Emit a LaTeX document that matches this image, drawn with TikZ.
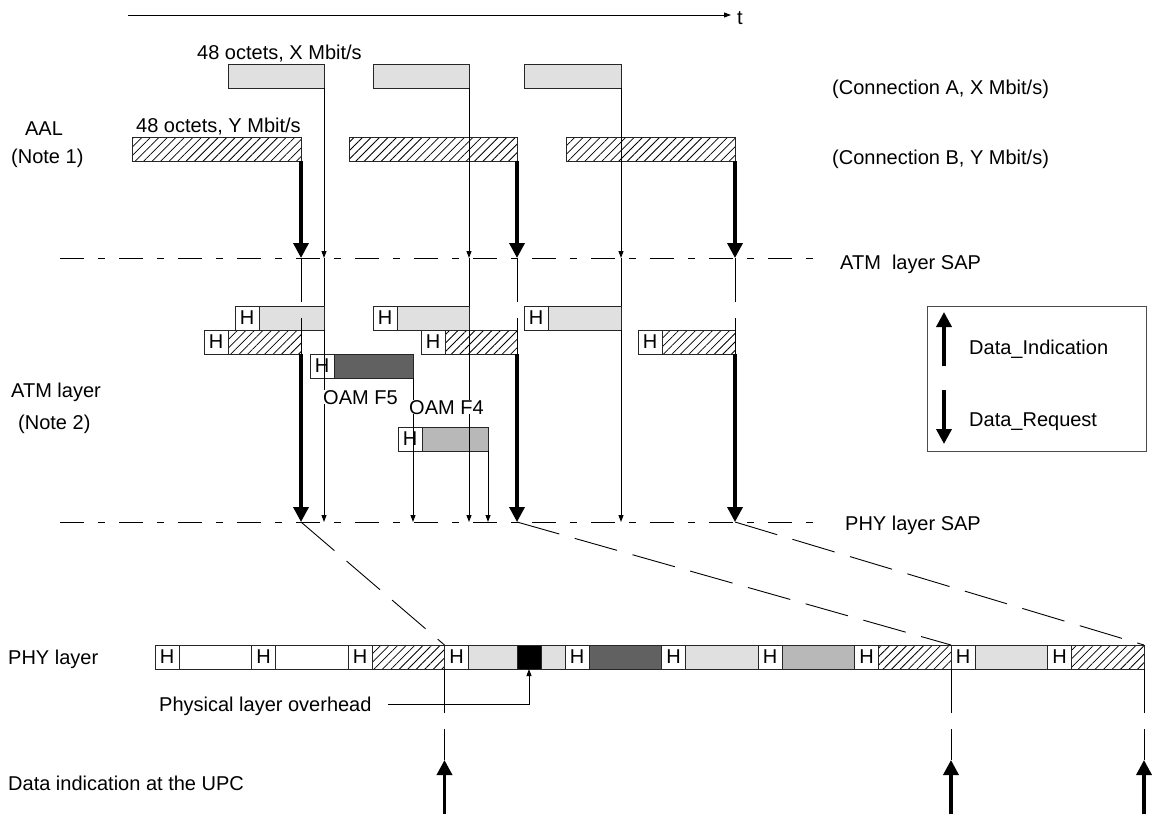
\documentclass[tikz,border=0pt]{standalone}
\usepackage{fontspec}
\setmainfont{Liberation Sans}
\usetikzlibrary{arrows.meta,patterns.meta}
\begin{document}
\begin{tikzpicture}[x=1pt,y=-1pt,
  lbl/.style={font=\fontsize{20}{24}\selectfont, inner sep=0pt, text height=14.3pt, text depth=0pt, anchor=west},
  bx/.style={draw=black!85, line width=0.9pt, inner sep=0pt, outer sep=0pt, anchor=north west, minimum height=24pt},
  hb/.style={bx, minimum width=24pt, font=\fontsize{20}{24}\selectfont},
  wfill/.style={fill=white},
  afill/.style={fill=black!12},
  bfill/.style={pattern={Lines[angle=45,distance=6pt,line width=0.8pt]}},
  f5fill/.style={fill=black!62},
  f4fill/.style={fill=black!28},
  kfill/.style={fill=black},
  thinl/.style={line width=0.9pt},
  tarr/.style={line width=0.9pt, -{Triangle[width=5pt,length=7pt]}},
  karr/.style={line width=3.5pt, -{Triangle[width=15pt,length=15pt]}},
  sap/.style={line width=0.9pt, dash pattern=on 24pt off 14pt on 7pt off 14pt},
  ldash/.style={line width=0.9pt, dash pattern=on 44pt off 16pt},
]
\useasboundingbox (0,0) rectangle (1157,814);

% time axis
\coordinate (t0) at (128,15);
\coordinate (t1) at (731,15);
\node[lbl] (tl) at (737,17) {t};

% SAP lines
\coordinate (atmL) at (60,258);
\coordinate (atmR) at (818,258);
\coordinate (phyL) at (60,522);
\coordinate (phyR) at (820,522);
\draw[sap] (atmL) -- (atmR);
\draw[sap] (phyL) -- (phyR);

% AAL blocks
\node[bx,afill,minimum width=96pt] (a1) at (228,64) {};
\node[bx,afill,minimum width=96pt] (a2) at (373,64) {};
\node[bx,afill,minimum width=97pt] (a3) at (524,64) {};
\node[bx,bfill,minimum width=169pt] (b1) at (132,137) {};
\node[bx,bfill,minimum width=168pt] (b2) at (349,137) {};
\node[bx,bfill,minimum width=169pt] (b3) at (566,137) {};

% ATM layer cells
\node[hb] (ha1) at (235,306) {H}; \node[bx,afill,minimum width=65pt] (ca1) at (259,306) {};
\node[hb] (ha2) at (373,306) {H}; \node[bx,afill,minimum width=72pt] (ca2) at (397,306) {};
\node[hb] (ha3) at (524,306) {H}; \node[bx,afill,minimum width=73pt] (ca3) at (548,306) {};
\node[hb] (hb1) at (204,330) {H}; \node[bx,bfill,minimum width=73pt] (cb1) at (228,330) {};
\node[hb] (hb2) at (421,330) {H}; \node[bx,bfill,minimum width=72pt] (cb2) at (445,330) {};
\node[hb] (hb3) at (638,330) {H}; \node[bx,bfill,minimum width=73pt] (cb3) at (662,330) {};
\node[hb] (h5) at (310,354) {H}; \node[bx,f5fill,minimum width=79pt] (c5) at (334,354) {};
\node[hb] (h4) at (398,427) {H}; \node[bx,f4fill,minimum width=66pt] (c4) at (422,427) {};

% PHY layer cells
\node[hb] (ph1) at (155,645) {H};    \node[bx,wfill,minimum width=72.5pt] (pp1) at (179,645) {};
\node[hb] (ph2) at (251.5,645) {H};  \node[bx,wfill,minimum width=72.5pt] (pp2) at (275.5,645) {};
\node[hb] (ph3) at (348,645) {H};    \node[bx,bfill,minimum width=72.5pt] (pp3) at (372,645) {};
\node[hb] (ph4) at (444.5,645) {H};  \node[bx,afill,minimum width=48.5pt] (pp4) at (468.5,645) {};
\node[bx,kfill,minimum width=24pt] (po) at (517,645) {};
\node[bx,afill,minimum width=24pt] (pp4b) at (541,645) {};
\node[hb] (ph5) at (565,645) {H};    \node[bx,f5fill,minimum width=72.5pt] (pp5) at (589,645) {};
\node[hb] (ph6) at (661.5,645) {H};  \node[bx,afill,minimum width=72.5pt] (pp6) at (685.5,645) {};
\node[hb] (ph7) at (758,645) {H};    \node[bx,f4fill,minimum width=72.5pt] (pp7) at (782,645) {};
\node[hb] (ph8) at (854.5,645) {H};  \node[bx,bfill,minimum width=72.5pt] (pp8) at (878.5,645) {};
\node[hb] (ph9) at (951,645) {H};    \node[bx,afill,minimum width=72.5pt] (pp9) at (975,645) {};
\node[hb] (ph10) at (1047.5,645) {H};\node[bx,bfill,minimum width=72.5pt] (pp10) at (1071.5,645) {};

% axis arrow
\draw[tarr] (t0) -- (t1);

% AAL -> ATM SAP
\draw[tarr] (a1.south east) -- (a1.south east |- atmL);
\draw[tarr] (a2.south east) -- (a2.south east |- atmL);
\draw[tarr] (a3.south east) -- (a3.south east |- atmL);
\draw[karr] (b1.south east) -- (b1.south east |- atmL);
\draw[karr] (b2.south east) -- (b2.south east |- atmL);
\draw[karr] (b3.south east) -- (b3.south east |- atmL);

% ATM SAP -> cells
\draw[thinl] (a1.south east |- atmL) -- (ca1.north east);
\draw[thinl] (a2.south east |- atmL) -- (ca2.north east);
\draw[thinl] (a3.south east |- atmL) -- (ca3.north east);
\draw[ldash] (b1.south east |- atmL) -- (cb1.south east);
\draw[ldash] (b2.south east |- atmL) -- (cb2.south east);
\draw[ldash] (b3.south east |- atmL) -- (cb3.south east);

% cells -> PHY SAP
\draw[tarr] (ca1.south east) -- (ca1.south east |- phyL);
\draw[tarr] (ca2.south east) -- (ca2.south east |- phyL);
\draw[tarr] (ca3.south east) -- (ca3.south east |- phyL);
\draw[tarr] (c5.south east) -- (c5.south east |- phyL);
\draw[tarr] (c4.south east) -- (c4.south east |- phyL);
\draw[karr] (cb1.south east) -- (cb1.south east |- phyL);
\draw[karr] (cb2.south east) -- (cb2.south east |- phyL);
\draw[karr] (cb3.south east) -- (cb3.south east |- phyL);

% PHY SAP -> PHY layer
\draw[ldash] (cb1.south east |- phyL) -- (ph4.north west);
\draw[ldash] (cb2.south east |- phyL) -- (ph9.north west);
\draw[ldash] (cb3.south east |- phyL) -- (pp10.north east);

% bottom indications
\coordinate (upy) at (0,760);
\coordinate (boty) at (0,814);
\draw[ldash] (ph4.south west) -- (ph4.south west |- upy);
\draw[ldash] (ph9.south west) -- (ph9.south west |- upy);
\draw[ldash] (pp10.south east) -- (pp10.south east |- upy);
\draw[karr] (ph4.south west |- boty) -- (ph4.south west |- upy);
\draw[karr] (ph9.south west |- boty) -- (ph9.south west |- upy);
\draw[karr] (pp10.south east |- boty) -- (pp10.south east |- upy);

% physical layer overhead
\node[lbl] (ovl) at (159,704) {Physical layer overhead};
\draw[tarr] ([xshift=16pt]ovl.east) -| (po.south);

% OAM labels
\node[lbl,fill=white] (f5l) at (323,397) {OAM F5};
\node[lbl,fill=white] (f4l) at (409,407) {OAM F4};

% legend
\node[draw=black!70, line width=0.9pt, minimum width=219pt, minimum height=145pt, anchor=north west, inner sep=0pt] (leg) at (927,306) {};
\coordinate (li1) at (944,366); \coordinate (li2) at (944,312);
\coordinate (lr1) at (944,390); \coordinate (lr2) at (944,444);
\draw[karr] (li1) -- (li2);
\draw[karr] (lr1) -- (lr2);
\node[lbl] (ldi) at (969,347) {Data\_Indication};
\node[lbl] (ldr) at (969,419) {Data\_Request};

% labels
\node[lbl] (xlab) at (197,52) {48 octets, X Mbit/s};
\node[lbl] (ylab) at (136,125) {48 octets, Y Mbit/s};
\node[lbl,anchor=center] (aal) at (44,128) {AAL};
\node[lbl] (n1) at (11,156) {(Note 1)};
\node[lbl] (conA) at (832,87) {(Connection A, X Mbit/s)};
\node[lbl] (conB) at (832,157) {(Connection B, Y Mbit/s)};
\node[lbl] (atmsap) at (840,262) {ATM\ \ layer SAP};
\node[lbl] (physap) at (845,523) {PHY layer SAP};
\node[lbl] (atml) at (11,390) {ATM layer};
\node[lbl] (n2) at (18,422) {(Note 2)};
\node[lbl] (phyl) at (8,657) {PHY layer};
\node[lbl] (upc) at (8,783) {Data indication at the UPC};
\end{tikzpicture}
\end{document}
